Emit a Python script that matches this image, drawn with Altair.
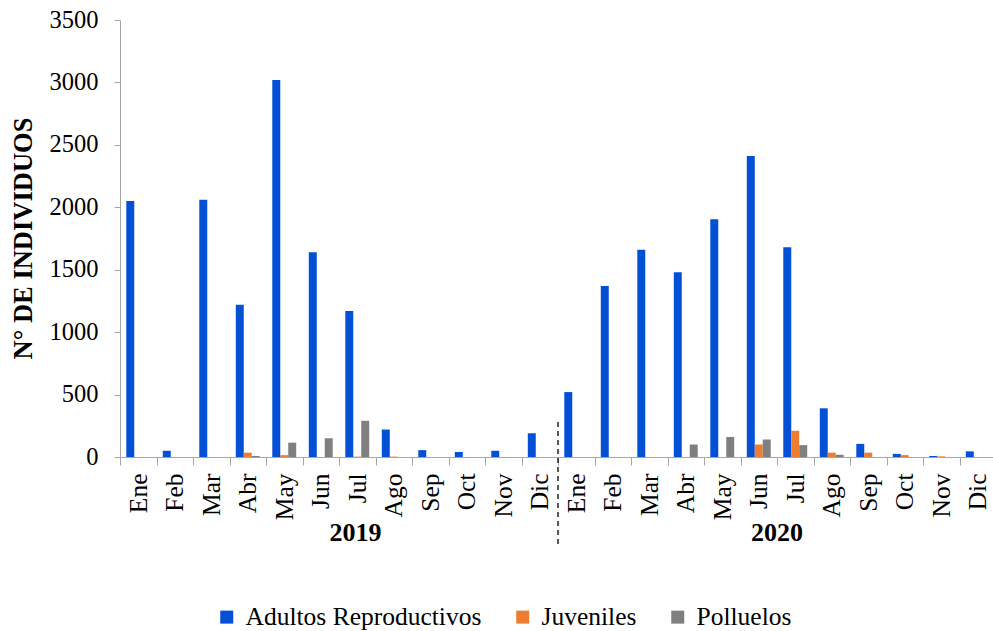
import altair as alt
import pandas as pd

months = ["Ene", "Feb", "Mar", "Abr", "May", "Jun", "Jul", "Ago", "Sep", "Oct", "Nov", "Dic"]
years = ["2019", "2020"]
series = ["Adultos Reproductivos", "Juveniles", "Polluelos"]
colors = ["#0350D4", "#ED7D31", "#7F7F7F"]

adultos_2019 = [2050, 50, 2060, 1220, 3020, 1640, 1170, 220, 55, 40, 50, 190]
juveniles_2019 = [0, 0, 0, 35, 15, 0, 3, 3, 0, 0, 0, 0]
polluelos_2019 = [0, 0, 0, 8, 115, 150, 290, 0, 0, 0, 0, 0]
adultos_2020 = [520, 1370, 1660, 1480, 1905, 2410, 1680, 390, 105, 25, 8, 45]
juveniles_2020 = [0, 0, 0, 0, 0, 100, 210, 35, 35, 15, 5, 0]
polluelos_2020 = [0, 0, 0, 100, 160, 140, 95, 18, 0, 0, 0, 0]

values = {
    ("2019", "Adultos Reproductivos"): adultos_2019,
    ("2019", "Juveniles"): juveniles_2019,
    ("2019", "Polluelos"): polluelos_2019,
    ("2020", "Adultos Reproductivos"): adultos_2020,
    ("2020", "Juveniles"): juveniles_2020,
    ("2020", "Polluelos"): polluelos_2020,
}

keys = [f"{m} {y}" for y in years for m in months]
rows = []
for y in years:
    for s in series:
        for m, v in zip(months, values[(y, s)]):
            rows.append({"key": f"{m} {y}", "serie": s, "valor": v})
df = pd.DataFrame(rows)

FONT = "Liberation Serif"

x_enc = alt.X(
    "key:N",
    sort=keys,
    scale=alt.Scale(range=[0, 876], paddingInner=0, paddingOuter=0),
    axis=alt.Axis(
        title=None,
        tickBand="extent",
        tickSize=8,
        labelAngle=270,
        labelAlign="right",
        labelBaseline="middle",
        labelPadding=8,
        labelFont=FONT,
        labelFontSize=25.5,
        labelColor="black",
        labelExpr="isValid(datum.value) ? split(datum.value, ' ')[0] : ''",
        domainColor="#A6A6A6",
        tickColor="#A6A6A6",
        labelOverlap=False,
    ),
)

bars = alt.Chart(df).mark_bar().encode(
    x=x_enc,
    xOffset=alt.XOffset("serie:N", sort=series,
                        scale=alt.Scale(paddingOuter=0.79, paddingInner=0)),
    y=alt.Y(
        "valor:Q",
        scale=alt.Scale(domain=[0, 3500], nice=False),
        axis=alt.Axis(
            values=[0, 500, 1000, 1500, 2000, 2500, 3000, 3500],
            format="d",
            grid=False,
            tickSize=6,
            labelPadding=16,
            labelFont=FONT,
            labelFontSize=24.5,
            labelColor="black",
            domainColor="#A6A6A6",
            tickColor="#A6A6A6",
            title="N° DE INDIVIDUOS",
            titleFont=FONT,
            titleFontSize=26.5,
            titleFontWeight="bold",
            titleColor="black",
            titleAngle=270,
            titleX=-97,
            titleY=218,
            titleAlign="center",
            titleBaseline="middle",
        ),
    ),
    color=alt.Color(
        "serie:N",
        sort=series,
        scale=alt.Scale(domain=series, range=colors),
        legend=alt.Legend(
            title=None,
            orient="none",
            legendX=94,
            legendY=584,
            direction="horizontal",
            symbolType="square",
            symbolSize=169,
            symbolStrokeWidth=0,
            labelFont=FONT,
            labelFontSize=25.5,
            labelColor="black",
            labelLimit=400,
            labelOffset=6,
            columnPadding=28,
        ),
    ),
)

year_2019 = alt.Chart(pd.DataFrame({"key": ["Jul 2019"], "label": [years[0]]})).mark_text(
    font=FONT, fontSize=26, fontWeight="bold", color="black", baseline="middle", align="center"
).encode(
    x=alt.X("key:N", sort=keys, bandPosition=0.45),
    y=alt.value(513),
    text="label:N",
)

year_2020 = alt.Chart(pd.DataFrame({"key": ["Jul 2020"], "label": [years[1]]})).mark_text(
    font=FONT, fontSize=26, fontWeight="bold", color="black", baseline="middle", align="center"
).encode(
    x=alt.X("key:N", sort=keys, bandPosition=0),
    y=alt.value(513),
    text="label:N",
)

sep_df = pd.DataFrame({"key": ["Ene 2020"]})
sep = alt.Chart(sep_df).mark_rule(color="black", strokeDash=[5, 4], strokeWidth=1.3).encode(
    x=alt.X("key:N", sort=keys, bandPosition=0),
    y=alt.value(402),
    y2=alt.value(525),
)

chart = alt.layer(bars, sep, year_2019, year_2020).properties(
    width=873,
    height=437,
    autosize=alt.AutoSizeParams(type="none"),
    padding={"left": 120, "top": 20, "right": 0, "bottom": 174},
    background="white",
).configure(
    font=FONT
).configure_legend(
    labelFont=FONT
).configure_axis(
    labelFont=FONT, titleFont=FONT
).configure_view(stroke=None)

chart.save("out.html", embed_options={"renderer": "svg", "actions": False})
